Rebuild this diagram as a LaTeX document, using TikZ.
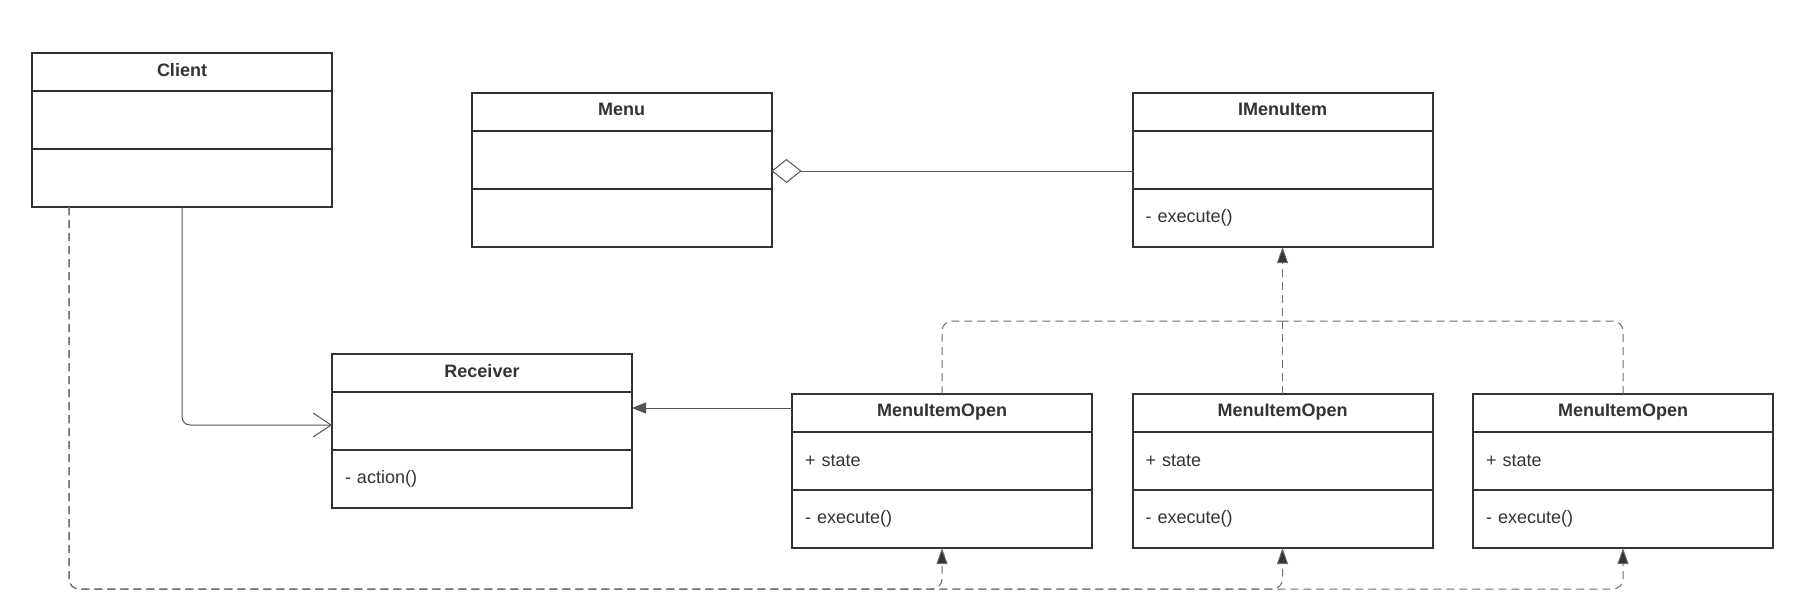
\documentclass[tikz,border=0pt]{standalone}
\usepackage{fontspec}
\setmainfont{Liberation Sans}
\usetikzlibrary{positioning,arrows.meta,calc}
\definecolor{boxLine}{HTML}{333333}
\definecolor{textDark}{HTML}{333333}
\definecolor{wireGray}{HTML}{555555}
\definecolor{dashGray}{HTML}{6E6E6E}
\tikzset{
    classhead/.style={draw=boxLine,line width=2pt,fill=white,outer sep=0pt,
        minimum width=300pt,minimum height=38pt,inner sep=0pt,text depth=5pt,
        font=\fontsize{18}{22}\selectfont\bfseries,text=textDark},
    classpart/.style={draw=boxLine,line width=2pt,fill=white,outer sep=0pt,
        text width=274pt,inner xsep=13pt,inner ysep=0pt,minimum height=58pt,
        align=left,font=\fontsize{18}{22}\selectfont,text=textDark},
    assoc/.style={-{Straight Barb[length=18pt,width=24pt]},draw=wireGray,
        line width=1pt,rounded corners=8pt},
    directed/.style={-{Triangle[length=14pt,width=11pt]},draw=wireGray,line width=1pt},
    aggregation/.style={{Diamond[open,length=30pt,width=24pt]}-,draw=wireGray,line width=1pt},
    realize/.style={-{Triangle[length=16pt,width=11pt,fill=boxLine]},
        dash pattern=on 8pt off 5pt,draw=dashGray,line width=1pt,rounded corners=10pt}
}
\begin{document}
\begin{tikzpicture}[x=1pt,y=-1pt,node distance=0pt and 40.5pt]
    \useasboundingbox (0,0) rectangle (1803,615);
    % classes
    \node[classhead] (clientHead) at (182,72) {Client};
    \node[classpart,below=of clientHead] (clientAttr) {};
    \node[classpart,below=of clientAttr] (clientOps) {};

    \node[classhead] (menuHead) at (621.5,112) {Menu};
    \node[classpart,below=of menuHead] (menuAttr) {};
    \node[classpart,below=of menuAttr] (menuOps) {};

    \node[classhead] (iMenuHead) at (1282.5,112) {IMenuItem};
    \node[classpart,below=of iMenuHead] (iMenuAttr) {};
    \node[classpart,below=of iMenuAttr] (iMenuOps) {- execute()};

    \node[classhead] (receiverHead) at (482,373) {Receiver};
    \node[classpart,below=of receiverHead] (receiverAttr) {};
    \node[classpart,below=of receiverAttr] (receiverOps) {- action()};

    \node[classhead] (openHeadA) at (942,413) {MenuItemOpen};
    \node[classpart,below=of openHeadA] (openAttrA) {+ state};
    \node[classpart,below=of openAttrA] (openOpsA) {- execute()};

    \node[classhead,right=of openHeadA] (openHeadB) {MenuItemOpen};
    \node[classpart,below=of openHeadB] (openAttrB) {+ state};
    \node[classpart,below=of openAttrB] (openOpsB) {- execute()};

    \node[classhead,right=of openHeadB] (openHeadC) {MenuItemOpen};
    \node[classpart,below=of openHeadC] (openAttrC) {+ state};
    \node[classpart,below=of openAttrC] (openOpsC) {- execute()};

    % relations
    \draw[aggregation] ([yshift=-11pt]menuAttr.east) -- ([yshift=-11pt]iMenuAttr.west);
    \draw[assoc] (clientOps.south) |- ([yshift=-4pt]receiverAttr.west);
    \draw[directed] ([yshift=5pt]openHeadA.west) -- ($(receiverAttr.east |- openHeadA.west)+(0,-5)$);

    \coordinate (joinTop) at ([yshift=-74pt]iMenuOps.south);
    \draw[realize,-] (openHeadA.north) |- (joinTop);
    \draw[realize,-] (openHeadC.north) |- (joinTop);
    \draw[realize] (openHeadB.north) -- (iMenuOps.south);

    \foreach \target in {openOpsA,openOpsB,openOpsC}
        \draw[realize] ([xshift=37pt]clientOps.south west) |- ([yshift=-41pt]\target.south) -- (\target.south);
\end{tikzpicture}
\end{document}
